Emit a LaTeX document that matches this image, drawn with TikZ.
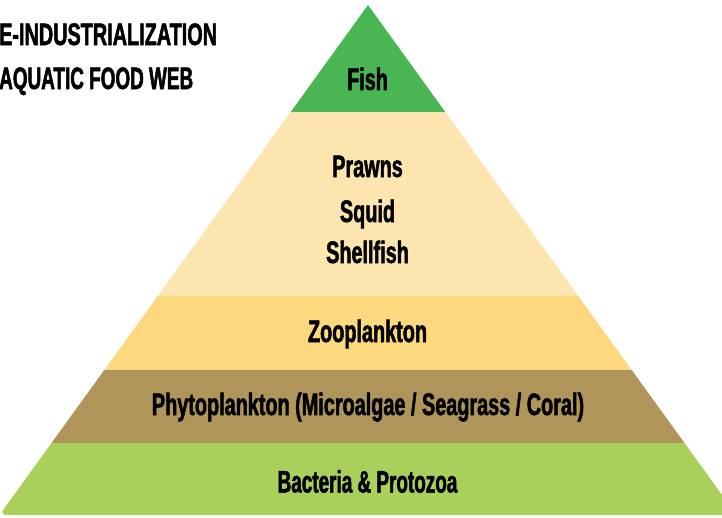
\documentclass[tikz,border=0pt]{standalone}
\usepackage{fontspec}
\setmainfont{Liberation Sans}[FakeStretch=0.64]
\newfontfamily\pyrfont{Liberation Sans Bold}[FakeStretch=0.64,FakeBold=1.6]
\newfontfamily\pyrfontn{Liberation Sans Bold}[FakeStretch=0.61,FakeBold=1.6]
\definecolor{fishgreen}{RGB}{74,182,83}
\definecolor{creamL}{RGB}{253,229,176}
\definecolor{yellowL}{RGB}{252,216,127}
\definecolor{brownL}{RGB}{176,149,90}
\definecolor{greenL}{RGB}{169,208,91}
\tikzset{
  lbl/.style={anchor=base, inner sep=0pt, font=\fontsize{31}{36}\pyrfont, text=black},
  ttl/.style={anchor=base west, inner sep=0pt, font=\fontsize{31}{36}\pyrfont, text=black}
}
\begin{document}
\begin{tikzpicture}[x=1pt,y=-1pt]
\useasboundingbox (0,0) rectangle (722,517);
\fill[white] (0,0) rectangle (722,517);
\begin{scope}
\clip (0,0) rectangle (722,517);
% layers
\fill[fishgreen] (368,5) -- (290.7,112) -- (445.3,112) -- cycle;
\fill[creamL] (290.7,112) -- (445.3,112) -- (578.2,296) -- (157.8,296) -- cycle;
\fill[yellowL] (157.8,296) -- (578.2,296) -- (631.7,370) -- (104.3,370) -- cycle;
\fill[brownL] (104.3,370) -- (631.7,370) -- (684.5,443) -- (51.5,443) -- cycle;
\fill[greenL] (51.5,443) -- (684.5,443) [rounded corners=7pt] -- (736.5,515) -- (-0.5,515) [sharp corners] -- cycle;
\end{scope}
% titles
\node[ttl] (t1) at (-1,45) {E-INDUSTRIALIZATION};
\node[ttl, font=\fontsize{31}{36}\pyrfontn] (t2) at (-1,89) {AQUATIC FOOD WEB};
% labels
\node[lbl] (fish) at (367.5,90) {Fish};
\node[lbl] (prawns) at (367.5,177) {Prawns};
\node[lbl] (squid) at (367.5,222) {Squid};
\node[lbl] (shell) at (367.5,263) {Shellfish};
\node[lbl] (zoo) at (367.5,342) {Zooplankton};
\node[lbl] (phyto) at (368,415) {Phytoplankton (Microalgae / Seagrass / Coral)};
\node[lbl, font=\fontsize{31}{36}\pyrfontn] (bact) at (367.5,492.5) {Bacteria \& Protozoa};
\end{tikzpicture}
\end{document}
